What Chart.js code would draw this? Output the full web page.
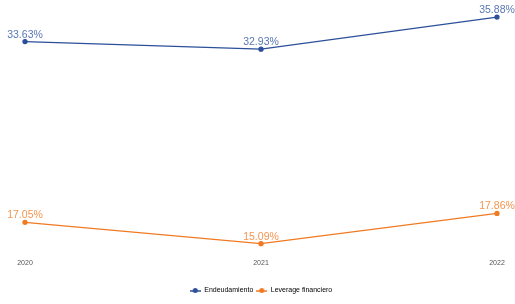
<!DOCTYPE html>
<html><head><meta charset="utf-8">
<script src="https://cdn.jsdelivr.net/npm/chart.js@4/dist/chart.umd.min.js"></script>
<style>html,body{margin:0;padding:0;background:#fff;}#wrap{width:515px;height:304px;}</style>
</head><body><div id="wrap"><canvas id="c" width="515" height="304"></canvas></div>
<script>
const categories = ['2020', '2021', '2022'];
const endeudamiento = [33.63, 32.93, 35.88];
const leverage = [17.05, 15.09, 17.86];
const seriesNames = ['Endeudamiento', 'Leverage financiero'];
const blue = '#2b4f99';
const orange = '#f07a22';
const blueText = '#5a78b3';
const orangeText = '#f39550';

function icon(color){
  const c = document.createElement('canvas');
  c.width = 11; c.height = 7;
  const g = c.getContext('2d');
  g.strokeStyle = color; g.lineWidth = 1.5;
  g.beginPath(); g.moveTo(0,4); g.lineTo(11,4); g.stroke();
  g.fillStyle = color;
  g.beginPath(); g.arc(5.5,3.5,2.5,0,Math.PI*2); g.fill();
  return c;
}

const labelPlugin = {
  id: 'valLabels',
  afterDatasetsDraw(chart){
    const ctx = chart.ctx;
    chart.data.datasets.forEach((ds, i) => {
      const meta = chart.getDatasetMeta(i);
      ctx.save();
      ctx.font = '10.5px "Liberation Sans", Arial, sans-serif';
      ctx.fillStyle = ds.labelColor;
      ctx.textAlign = 'center';
      ctx.textBaseline = 'alphabetic';
      meta.data.forEach((pt, j) => {
        const txt = ds.data[j].toFixed(2) + '%';
        let x = pt.x;
        const w = ctx.measureText(txt).width;
        if (x + w/2 > chart.width) x = chart.width - w/2;
        ctx.fillText(txt, x, pt.y - 4);
      });
      ctx.restore();
    });
  }
};

new Chart(document.getElementById('c'), {
  type: 'line',
  data: {
    labels: categories,
    datasets: [
      {label: seriesNames[0], data: endeudamiento, borderColor: blue, backgroundColor: blue, labelColor: blueText, borderWidth: 1.3, pointRadius: 2, pointHoverRadius: 2, tension: 0},
      {label: seriesNames[1], data: leverage, borderColor: orange, backgroundColor: orange, labelColor: orangeText, borderWidth: 1.3, pointRadius: 2, pointHoverRadius: 2, tension: 0}
    ]
  },
  options: {
    responsive: false,
    animation: false,
    devicePixelRatio: 1,
    layout: {padding: {left: 25, right: 18, top: 3, bottom: 0}},
    scales: {
      x: {
        offset: false,
        grid: {display: false, drawTicks: false},
        border: {display: false},
        ticks: {color: '#555', font: {size: 7, family: '"Liberation Sans", Arial, sans-serif'}, padding: 5},
        afterFit(scale){ scale.height = 30; }
      },
      y: {
        display: false,
        min: 14.14, max: 37.14
      }
    },
    plugins: {
      tooltip: {enabled: false},
      legend: {
        position: 'bottom',
        labels: {
          usePointStyle: true,
          pointStyleWidth: 11,
          boxHeight: 7,
          padding: 3,
          color: '#333',
          font: {size: 7, family: '"Liberation Sans", Arial, sans-serif'},
          generateLabels(chart){
            return chart.data.datasets.map((ds, i) => ({
              text: ds.label, fillStyle: ds.borderColor, strokeStyle: ds.borderColor,
              pointStyle: icon(ds.borderColor), datasetIndex: i, hidden: false, lineWidth: 0
            }));
          }
        }
      }
    }
  },
  plugins: [labelPlugin]
});
</script></body></html>
